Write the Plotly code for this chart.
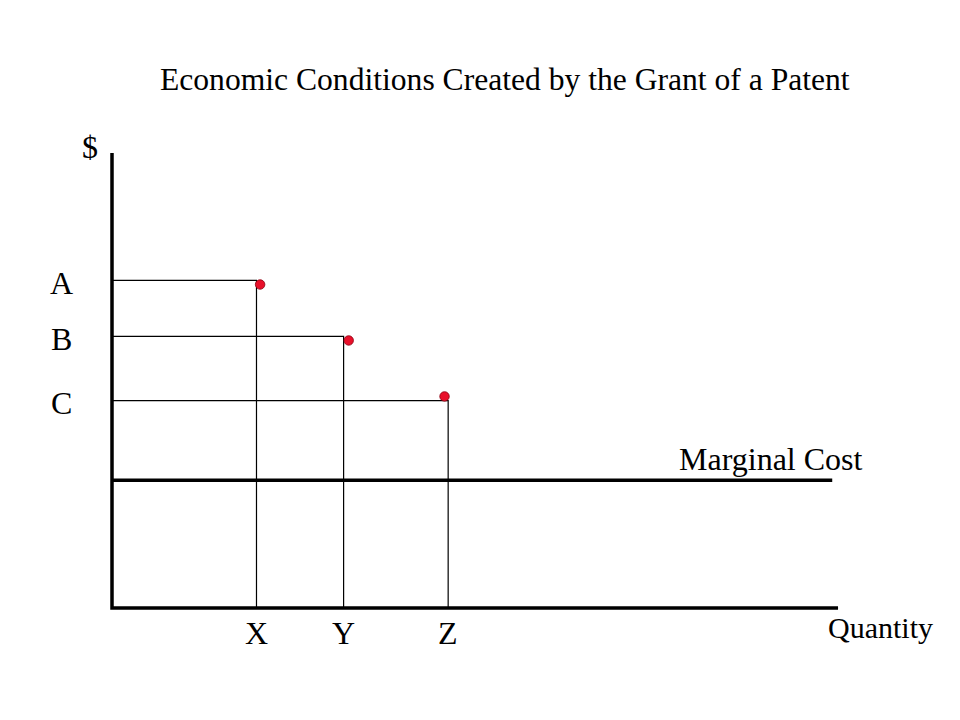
import plotly.graph_objects as go

# ---- data (model units) ----
quantity_labels = ["X", "Y", "Z"]
quantities = [1.99, 3.19, 4.63]          # X, Y, Z on the quantity axis
price_labels = ["A", "B", "C"]
prices = [7.20, 5.97, 4.56]              # A, B, C on the $ axis
demand_q = [2.04, 3.26, 4.58]            # red points
demand_p = [7.11, 5.88, 4.65]
marginal_cost = 2.81
mc_end = 9.92
axis_max_q = 10.0
axis_max_p = 10.0

FONT = "Liberation Serif, Times New Roman, serif"

fig = go.Figure()

# price/quantity guide lines (thin)
for q, p in zip(quantities, prices):
    fig.add_trace(go.Scatter(x=[0, q, q], y=[p, p, 0], mode="lines",
                             line=dict(color="black", width=1.2),
                             hoverinfo="skip", showlegend=False))

# marginal cost line
fig.add_trace(go.Scatter(x=[0, mc_end], y=[marginal_cost, marginal_cost], mode="lines",
                         line=dict(color="black", width=3.5),
                         hoverinfo="skip", showlegend=False))

# axes
fig.add_trace(go.Scatter(x=[0, 0, axis_max_q], y=[axis_max_p, 0, 0], mode="lines",
                         line=dict(color="black", width=3.5),
                         hoverinfo="skip", showlegend=False))

# red points
fig.add_trace(go.Scatter(x=demand_q, y=demand_p, mode="markers",
                         marker=dict(color="#e8102a", size=9.5,
                                     line=dict(color="#8a0010", width=0.8)),
                         hoverinfo="skip", showlegend=False))

ann = []
for lab, p in zip(price_labels, prices):
    ann.append(dict(x=-0.70, y=p - 0.06, text=lab, xref="x", yref="y",
                    showarrow=False, font=dict(family=FONT, size=32, color="black")))
for lab, q in zip(quantity_labels, quantities):
    ann.append(dict(x=q, y=-0.55, text=lab, xref="x", yref="y",
                    showarrow=False, font=dict(family=FONT, size=32, color="black")))
ann.append(dict(x=-0.30, y=10.13, text="$", xref="x", yref="y", showarrow=False,
                font=dict(family=FONT, size=32, color="black")))
ann.append(dict(x=10.58, y=-0.42, text="Quantity", xref="x", yref="y", showarrow=False,
                font=dict(family=FONT, size=30, color="black")))
ann.append(dict(x=9.08, y=marginal_cost + 0.46, text="Marginal Cost", xref="x", yref="y",
                showarrow=False, font=dict(family=FONT, size=32, color="black")))
ann.append(dict(x=5.41, y=11.62, text="Economic Conditions Created by the Grant of a Patent",
                xref="x", yref="y", showarrow=False,
                font=dict(family=FONT, size=31.6, color="black")))

fig.update_layout(
    width=960, height=720,
    margin=dict(l=0, r=0, t=0, b=0),
    paper_bgcolor="white", plot_bgcolor="white",
    annotations=ann,
    xaxis=dict(range=[-1.4325, 11.790], visible=False, fixedrange=True),
    yaxis=dict(range=[-2.637, 13.187], visible=False, fixedrange=True),
)

fig.write_html("out.html")
